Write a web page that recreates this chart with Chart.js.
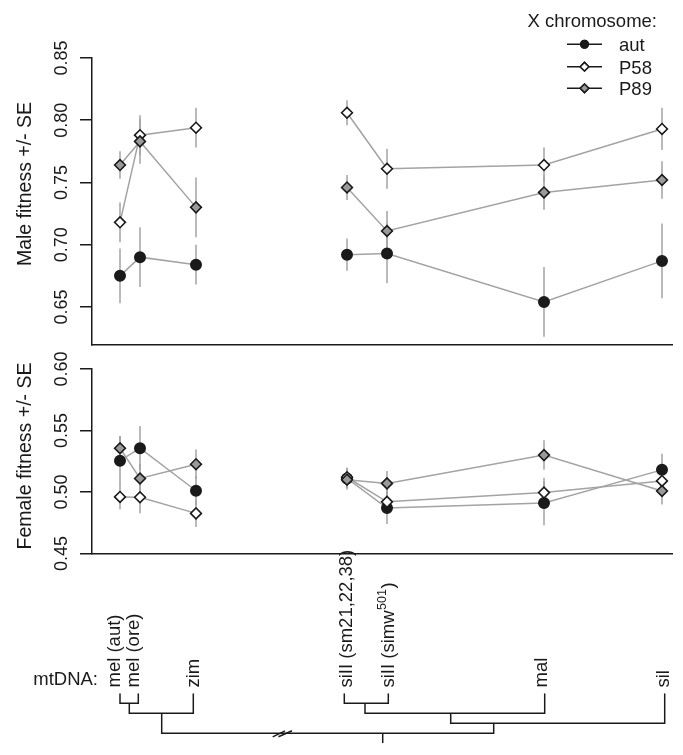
<!DOCTYPE html>
<html lang="en">
<head>
<meta charset="utf-8">
<title>Male and female fitness by mtDNA and X chromosome</title>
<script src="https://cdn.jsdelivr.net/npm/chart.js@4.4.1/dist/chart.umd.min.js"></script>
<style>
  body { margin: 0; background: #fff; }
  #wrap { position: relative; width: 683px; height: 755px; }
  #wrap canvas { position: absolute; left: 0; top: 0; }
</style>
</head>
<body>
<div id="wrap">
  <canvas id="male" width="683" height="755"></canvas>
  <canvas id="female" width="683" height="755"></canvas>
  <canvas id="tree" width="683" height="755"></canvas>
</div>
<script>
// mtDNA haplotypes, left to right, and where they sit on the shared x axis
const strains = ['mel (aut)', 'mel (ore)', 'zim', 'siII (sm21,22,38)', 'siII (simw501)', 'mal', 'sil'];
const xPos = [1, 1.5, 2.9, 6.675, 7.675, 11.6, 14.55];
const groupBreak = 3; // lines are not joined between zim and siII
const xMin = 0.3;
const xMax = 14.8175;

const chromosomes = ['aut', 'P58', 'P89'];

// male fitness (mean, SE)
const maleAut   = [0.675, 0.690, 0.684, 0.692, 0.693, 0.654, 0.687];
const maleAutSE = [0.022, 0.024, 0.016, 0.013, 0.024, 0.028, 0.030];
const maleP58   = [0.718, 0.788, 0.794, 0.806, 0.761, 0.764, 0.793];
const maleP58SE = [0.016, 0.016, 0.016, 0.010, 0.016, 0.014, 0.017];
const maleP89   = [0.764, 0.783, 0.730, 0.746, 0.711, 0.742, 0.752];
const maleP89SE = [0.011, 0.018, 0.024, 0.010, 0.016, 0.014, 0.015];
const maleTicks = [0.65, 0.70, 0.75, 0.80, 0.85];

// female fitness (mean, SE)
const femAut   = [0.5255, 0.5356, 0.501, 0.511, 0.487, 0.491, 0.518];
const femAutSE = [0.020, 0.018, 0.012, 0.008, 0.013, 0.018, 0.013];
const femP58   = [0.496, 0.4957, 0.4826, 0.512, 0.492, 0.4995, 0.509];
const femP58SE = [0.010, 0.013, 0.011, 0.008, 0.010, 0.012, 0.010];
const femP89   = [0.5356, 0.511, 0.5226, 0.510, 0.507, 0.530, 0.5008];
const femP89SE = [0.010, 0.012, 0.012, 0.008, 0.010, 0.012, 0.011];
const femTicks = [0.45, 0.50, 0.55, 0.60];

// mtDNA tree: tips, label positions, and branch paths (x in axis units, y = depth level)
const tipX   = [1, 1.4575, 2.8325, 6.6075, 7.7075, 11.6175, 14.6175];
const labelX = [0.875, 1.3375, 2.85, 6.6625, 7.725, 11.55, 14.59];
const treePaths = [
  [[1, 0], [1, 1], [1.4575, 1], [1.4575, 0]],
  [[1.2325, 1], [1.2325, 2], [2.8325, 2], [2.8325, 0]],
  [[6.6075, 0], [6.6075, 1], [7.7075, 1], [7.7075, 0]],
  [[7.125, 1], [7.125, 2], [11.6175, 2], [11.6175, 0]],
  [[9.2675, 2], [9.2675, 3], [14.6175, 3], [14.6175, 0]],
  [[2.0425, 2], [2.0425, 4], [10.3425, 4], [10.3425, 3]],
  [[7.5675, 4], [7.5675, 5]]
];
const breakMarks = [
  [[4.8175, 4.35], [5.125, 3.75]],
  [[4.9625, 4.35], [5.3, 3.75]]
];

const ink = '#1a1a1a';
const lineGrey = '#a3a3a3';
const p89Fill = '#9a9a9a';
const font = '"Liberation Sans", Arial, Helvetica, sans-serif';

function series(vals) {
  const pts = vals.map((v, i) => ({ x: xPos[i], y: v }));
  pts.splice(groupBreak, 0, { x: (xPos[groupBreak - 1] + xPos[groupBreak]) / 2, y: null });
  return pts;
}

function mk(label, vals, se, style, fill) {
  return {
    label, data: series(vals), means: vals, se,
    borderColor: lineGrey, borderWidth: 1.5, spanGaps: false, tension: 0,
    pointStyle: style, pointRadius: style === 'circle' ? 5.2 : 5.4, pointBorderWidth: 1.6,
    pointBorderColor: ink, pointBackgroundColor: fill
  };
}

function xAxis() {
  return {
    type: 'linear', min: xMin, max: xMax,
    grid: { display: false },
    ticks: { display: false },
    border: { display: true, color: ink, width: 1.5 },
    afterFit: s => { s.height = 0; }
  };
}

function yAxis(tickVals, lo, hi) {
  return {
    min: lo, max: hi,
    afterBuildTicks: s => { s.ticks = tickVals.map(v => ({ value: v })); },
    afterFit: s => { s.width = 92; },
    ticks: { display: false },
    grid: { display: true, drawOnChartArea: false, drawTicks: true, tickLength: 12, color: ink, lineWidth: 1.5 },
    border: { display: true, color: ink, width: 1.5 }
  };
}

// vertical +/- SE bars under the points
const errorBars = {
  id: 'errorBars',
  beforeDatasetsDraw(chart) {
    const { ctx, scales: { x, y } } = chart;
    ctx.save();
    ctx.strokeStyle = lineGrey;
    ctx.lineWidth = 1.5;
    chart.data.datasets.forEach(ds => {
      ds.means.forEach((m, i) => {
        const px = x.getPixelForValue(xPos[i]);
        ctx.beginPath();
        ctx.moveTo(px, y.getPixelForValue(m - ds.se[i]));
        ctx.lineTo(px, y.getPixelForValue(m + ds.se[i]));
        ctx.stroke();
      });
    });
    ctx.restore();
  }
};

// R-style rotated tick labels and axis title
const panelText = {
  id: 'panelText',
  afterDraw(chart, args, o) {
    const { ctx, scales: { y } } = chart;
    ctx.save();
    ctx.fillStyle = ink;
    ctx.textAlign = 'center';
    ctx.textBaseline = 'alphabetic';
    ctx.font = '18px ' + font;
    y.ticks.forEach(t => {
      ctx.save();
      ctx.translate(o.tickX, y.getPixelForValue(t.value));
      ctx.rotate(-Math.PI / 2);
      ctx.fillText(t.value.toFixed(2), 0, 0);
      ctx.restore();
    });
    ctx.font = '19.5px ' + font;
    ctx.translate(o.titleX, o.titleY);
    ctx.rotate(-Math.PI / 2);
    ctx.fillText(o.title, 0, 0);
    ctx.restore();
  }
};

const legendBox = {
  id: 'legendBox',
  afterDraw(chart) {
    const { ctx } = chart;
    const rows = [44.3, 66.7, 88.3];
    const styles = [['circle', ink], ['rectRot', '#ffffff'], ['rectRot', p89Fill]];
    ctx.save();
    ctx.fillStyle = ink;
    ctx.font = '18.5px ' + font;
    ctx.textAlign = 'right';
    ctx.fillText('X chromosome:', 657, 27);
    ctx.textAlign = 'left';
    chromosomes.forEach((c, i) => {
      const cy = rows[i];
      ctx.strokeStyle = ink;
      ctx.lineWidth = 1.5;
      ctx.beginPath();
      ctx.moveTo(567, cy);
      ctx.lineTo(602, cy);
      ctx.stroke();
      Chart.helpers.drawPoint(ctx, {
        pointStyle: styles[i][0], radius: styles[i][0] === 'circle' ? 3.8 : 4.3, borderWidth: 1.3
      }, 584.5, cy);
      ctx.fillStyle = styles[i][1];
      ctx.fill();
      ctx.stroke();
      ctx.fillStyle = ink;
      ctx.fillText(c, 619, cy + 6.8);
    });
    ctx.restore();
  }
};

new Chart(document.getElementById('male'), {
  type: 'line',
  data: { datasets: [mk('P89', maleP89, maleP89SE, 'rectRot', p89Fill), mk('P58', maleP58, maleP58SE, 'rectRot', '#ffffff'), mk('aut', maleAut, maleAutSE, 'circle', ink)] },
  options: {
    responsive: false, animation: false, events: [],
    layout: { padding: { top: 58, right: 10.3, bottom: 410.7, left: 0 } },
    scales: { x: xAxis(), y: yAxis(maleTicks, 0.62, 0.85) },
    plugins: {
      legend: { display: false }, tooltip: { enabled: false },
      panelText: { tickX: 66.5, titleX: 31, titleY: 184, title: 'Male fitness +/- SE' }
    }
  },
  plugins: [errorBars, panelText, legendBox]
});

new Chart(document.getElementById('female'), {
  type: 'line',
  data: { datasets: [mk('P89', femP89, femP89SE, 'rectRot', p89Fill), mk('P58', femP58, femP58SE, 'rectRot', '#ffffff'), mk('aut', femAut, femAutSE, 'circle', ink)] },
  options: {
    responsive: false, animation: false, events: [],
    layout: { padding: { top: 369, right: 10.3, bottom: 201.5, left: 0 } },
    scales: { x: xAxis(), y: yAxis(femTicks, 0.45, 0.60) },
    plugins: {
      legend: { display: false }, tooltip: { enabled: false },
      panelText: { tickX: 66.5, titleX: 31, titleY: 456, title: 'Female fitness +/- SE' }
    }
  },
  plugins: [errorBars, panelText]
});

function flatten(paths) {
  const out = [];
  paths.forEach((p, k) => {
    if (k > 0) out.push({ x: p[0][0], y: null });
    p.forEach(([x, y]) => out.push({ x, y }));
  });
  return out;
}

// tip labels; the 501 in simw501 is a superscript
const tipLabels = {
  id: 'tipLabels',
  afterDraw(chart) {
    const { ctx, scales: { x, y } } = chart;
    const y0 = y.getPixelForValue(0) - 5.8;
    ctx.save();
    ctx.fillStyle = ink;
    ctx.textBaseline = 'middle';
    ctx.textAlign = 'left';
    strains.forEach((s, i) => {
      ctx.save();
      ctx.translate(x.getPixelForValue(labelX[i]), y0);
      ctx.rotate(-Math.PI / 2);
      const m = s.match(/^(.*simw)(\d+)(\))$/);
      ctx.font = '18.5px ' + font;
      if (m) {
        ctx.fillText(m[1], 0, 0);
        let w = ctx.measureText(m[1]).width;
        ctx.font = '12.5px ' + font;
        ctx.fillText(m[2], w + 0.5, -6.5);
        w += ctx.measureText(m[2]).width + 1;
        ctx.font = '18.5px ' + font;
        ctx.fillText(m[3], w, 0);
      } else {
        ctx.fillText(s, 0, 0);
      }
      ctx.restore();
    });
    ctx.font = '18.5px ' + font;
    ctx.textAlign = 'right';
    ctx.textBaseline = 'alphabetic';
    ctx.fillText('mtDNA:', 98, 684.5);
    ctx.restore();
  }
};

new Chart(document.getElementById('tree'), {
  type: 'scatter',
  data: {
    datasets: [
      { data: flatten(treePaths), showLine: true, spanGaps: false, borderColor: ink, borderWidth: 1.5, pointRadius: 0, borderJoinStyle: 'miter', borderCapStyle: 'butt' },
      { data: flatten(breakMarks), showLine: true, spanGaps: false, borderColor: ink, borderWidth: 1.5, pointRadius: 0 }
    ]
  },
  options: {
    responsive: false, animation: false, events: [],
    layout: { padding: { top: 693.3, right: 10.3, bottom: 11.7, left: 92 } },
    scales: {
      x: { type: 'linear', min: xMin, max: xMax, display: false },
      y: { type: 'linear', min: 0, max: 5, reverse: true, display: false }
    },
    plugins: { legend: { display: false }, tooltip: { enabled: false } }
  },
  plugins: [tipLabels]
});
</script>
</body>
</html>
